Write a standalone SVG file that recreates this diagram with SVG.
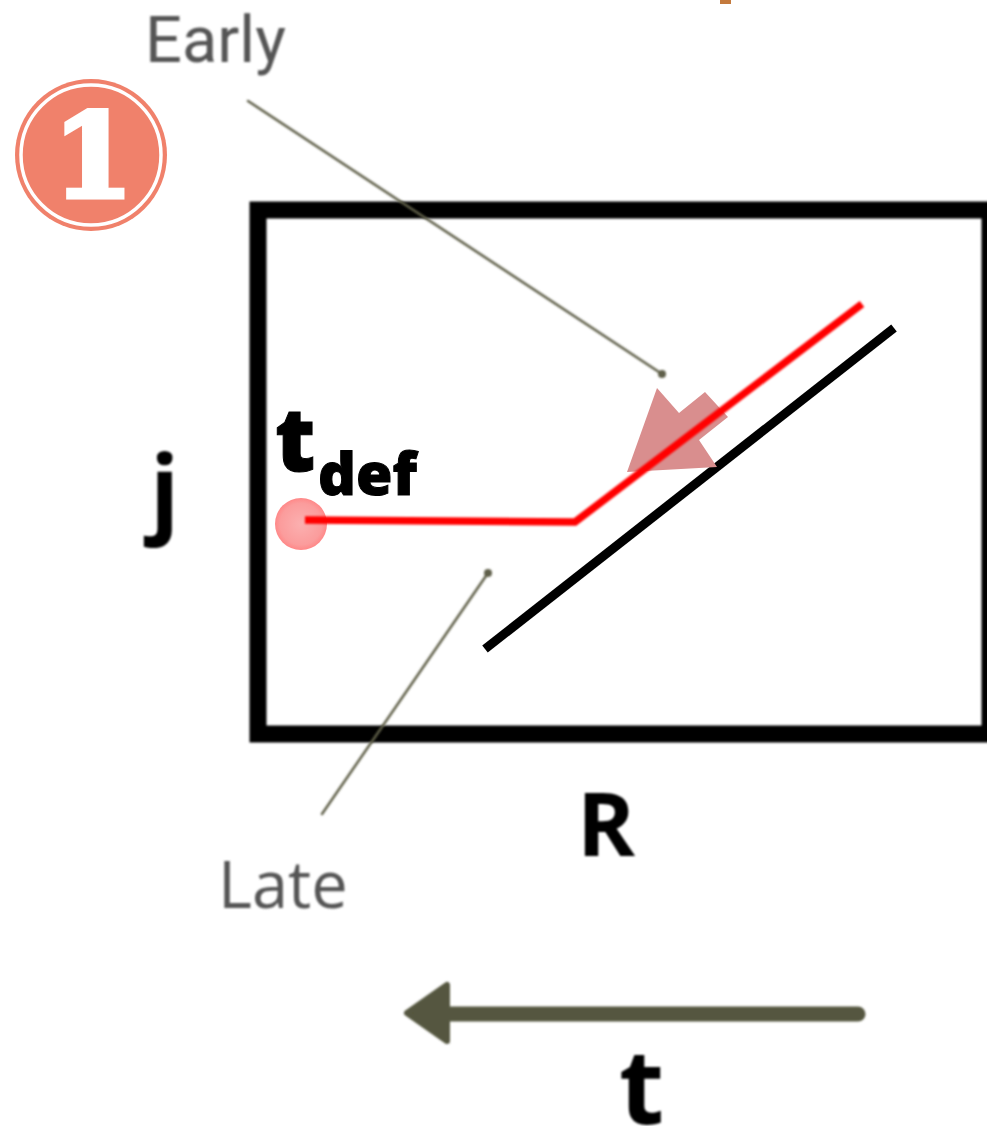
<svg xmlns="http://www.w3.org/2000/svg" width="987" height="1126" viewBox="0 0 987 1126">
<style>
.sans{font-family:"Open Sans","Liberation Sans",sans-serif}
.lbl{font-weight:700;fill:#000}
.note{fill:#555;font-weight:400}
.thin{fill:none;stroke:#5f5f48;stroke-width:2.5;stroke-linecap:round}
</style>
<defs>
<radialGradient id="dot"><stop offset="0" stop-color="#fbb0b0"/><stop offset="0.8" stop-color="#fb9c9c"/><stop offset="1" stop-color="#f88"/></radialGradient>
<filter id="soft" x="-20%" y="-20%" width="140%" height="140%"><feGaussianBlur stdDeviation="0.9"/></filter>
</defs>
<rect width="987" height="1126" fill="#fff"/>
<rect x="720" y="0" width="11" height="4" fill="#c47a3d"/>
<g id="badge">
<circle cx="91" cy="155" r="76" fill="#f0816b"/>
<circle cx="91" cy="155" r="70" fill="none" stroke="#fff" stroke-width="3.5"/>
<text x="93" y="197" text-anchor="middle" style="font-family:'DejaVu Serif',serif;font-weight:700;font-size:116px" fill="#fff" stroke="#fff" stroke-width="5">1</text>
</g>
<g id="frame" filter="url(#soft)"><rect x="258" y="210" width="732" height="524" fill="none" stroke="#000" stroke-width="17"/></g>
<g id="early" filter="url(#soft)"><text class="note" x="145" y="62" style="font-family:Roboto,'Liberation Sans',sans-serif;font-size:65px">Early</text></g>
<g id="late" filter="url(#soft)"><text class="sans note" x="218" y="908" style="font-size:65px">Late</text></g>
<g id="j" filter="url(#soft)"><text class="sans lbl" x="150" y="525" style="font-size:96px">j</text></g>
<g id="R" filter="url(#soft)"><text class="sans lbl" x="577" y="856" style="font-size:88px">R</text></g>
<g id="t" filter="url(#soft)"><text class="sans lbl" x="619" y="1124" style="font-size:104px">t</text></g>
<g id="tdef"><text class="sans" x="275" y="471" style="font-size:88px;font-weight:800" fill="#000" stroke="#000" stroke-width="1">t<tspan x="318" y="495" style="font-size:59px">def</tspan></text></g>
<g id="start-dot"><circle cx="301" cy="524" r="26" fill="url(#dot)"/></g>
<g id="connectors">
<g filter="url(#soft)">
<path class="thin" d="M248 101L662 374M322 814L488 573"/>
<circle cx="662" cy="374" r="4" fill="#5f5f48"/>
<circle cx="488" cy="573" r="4" fill="#5f5f48"/>
</g>
<path d="M485 649L894 328" fill="none" stroke="#000" stroke-width="9"/>
<polygon points="627,472 657,388 679,413 705,392 728,417 699,440 717,467" fill="#d98e8e"/>
<path d="M305 520L575 522L862 304" fill="none" stroke="#f00" stroke-width="7.5" filter="url(#soft)"/>
<g filter="url(#soft)">
<path d="M858 1014H438" fill="none" stroke="#55563f" stroke-width="15" stroke-linecap="round"/>
<path d="M447 985V1041L407 1013Z" fill="#55563f" stroke="#55563f" stroke-width="6" stroke-linejoin="round"/>
</g>
</g>
</svg>
